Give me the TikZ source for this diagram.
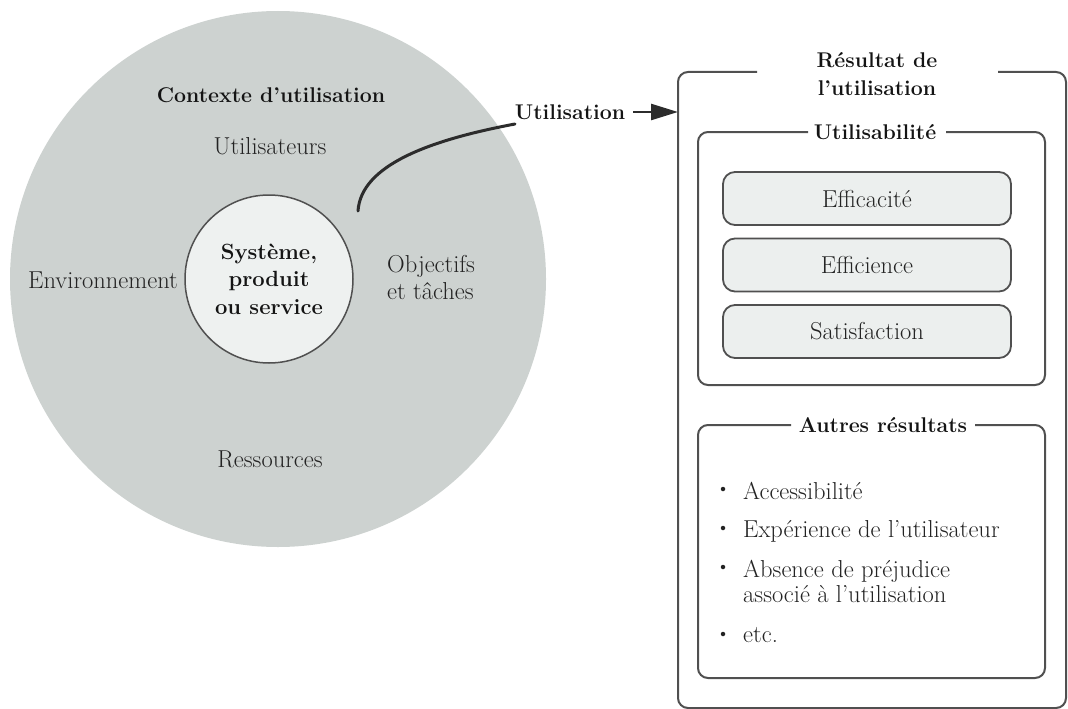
\documentclass[tikz,border=0pt]{standalone}
\usetikzlibrary{arrows.meta}
\definecolor{ctxgray}{RGB}{205,210,208}
\definecolor{coregray}{RGB}{238,241,240}
\definecolor{boxfill}{RGB}{236,239,238}
\definecolor{linegray}{RGB}{80,80,80}
\definecolor{txtdark}{RGB}{20,20,20}
\definecolor{txtreg}{RGB}{35,35,35}
\begin{document}
\begin{tikzpicture}[x=1pt,y=-1pt,
  reg/.style={text=txtreg,font=\fontsize{24.5}{27}\selectfont,inner sep=0pt},
  bold/.style={text=txtdark,font=\fontsize{21.3}{27.5}\selectfont\bfseries,inner sep=0pt},
  frame/.style={draw=linegray,line width=2pt,rounded corners=10pt},
  pill/.style={draw=linegray,line width=1.8pt,fill=boxfill,rounded corners=12pt,
               minimum width=288pt,minimum height=53pt},
  dot/.style={circle,fill=txtreg,inner sep=0pt,minimum size=4.5pt}]
\useasboundingbox (0,0) rectangle (1068,709);
\clip (0,0) rectangle (1068,709);
% context circle
\node[circle,fill=ctxgray,minimum size=536pt,inner sep=0pt] (ctx) at (278,279) {};
\node[bold] (ctxt) at (271,95) {Contexte d’utilisation};
\node[reg] (users) at (270,146) {Utilisateurs};
\node[reg] (env) at (103,280) {Environnement};
\node[reg,align=left,anchor=west] (goals) at (387,277) {Objectifs\\et t\^aches};
\node[reg] (res) at (270,459) {Ressources};
\node[circle,draw=linegray,line width=1.5pt,fill=coregray,minimum size=168pt,inner sep=0pt,
      bold,align=center,font=\fontsize{22}{27.5}\selectfont\bfseries] (core) at (269,279)
      {Syst\`eme,\\produit\\ou service};
% usage
\node[bold] (usage) at (570,112) {Utilisation};
\coordinate (cstart) at (358,211);
\coordinate (cend) at (515,124);
\draw[draw=txtdark!90,line width=3pt,line cap=round] (cstart) .. controls (361,165) and (430,140) .. (cend);
\coordinate (tip) at (678,112);
\draw[draw=txtdark!90,line width=2.5pt,-{Triangle[length=27pt,width=16pt]}] ([xshift=8pt]usage.east) -- (tip);
% outer result frame
\node[bold,align=center] (result) at (877,74) {R\'esultat de\\l’utilisation};
\draw[frame] (757,72) -- (678,72) -- (678,708) -- (1066,708) -- (1066,72) -- (998,72);
% usability frame
\node[bold] (usab) at (875,132) {Utilisabilit\'e};
\draw[frame] (808,132) -- (698,132) -- (698,385) -- (1045,385) -- (1045,132) -- (946,132);
\node[pill,reg] (eff) at (867,198.5) {Efficacit\'e};
\node[pill,reg] (effi) at (867,265) {Efficience};
\node[pill,reg] (sat) at (867,331.5) {Satisfaction};
% other results frame
\node[bold] (autres) at (883,425) {Autres r\'esultats};
\draw[frame] (791,425) -- (698,425) -- (698,678) -- (1045,678) -- (1045,425) -- (975,425);
\node[dot] (d1) at (723,489) {};
\node[dot] (d2) at (723,528) {};
\node[dot] (d3) at (723,567) {};
\node[dot] (d4) at (723,634) {};
\node[reg,anchor=west] (b1) at (743,491) {Accessibilit\'e};
\node[reg,anchor=west] (b2) at (743,531) {Exp\'erience de l’utilisateur};
\node[reg,anchor=west,align=left,font=\fontsize{24.5}{25}\selectfont] (b3) at (743,581) {Absence de pr\'ejudice\\associ\'e \`a l’utilisation};
\node[reg,anchor=west] (b4) at (743,635) {etc.};
\end{tikzpicture}
\end{document}
